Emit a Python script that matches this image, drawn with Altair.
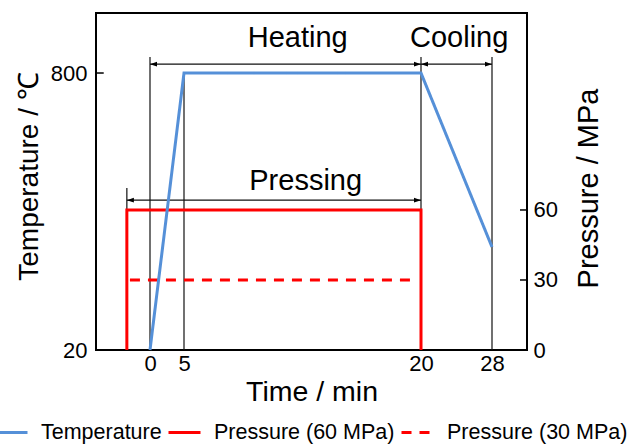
import altair as alt
import pandas as pd

FONT = "Liberation Sans"

# ---------------- data ----------------
series_names = ["Temperature", "Pressure (60 MPa)", "Pressure (30 MPa)"]
series_colors = ["#5590D8", "#FF0000", "#FF0000"]

temp_time = [0, 5, 20, 28]
temp_value = [20, 800, 800, 310]

p60_time = [-3, -3, 20, 20]
p60_value = [0, 60, 60, 0]

p30_time = [-2.6, 19.4]
p30_value = [30, 30]

x_ticks = [0, 5, 20, 28]
temp_ticks = [20, 800]
press_ticks = [0, 30, 60]

# vertical guide lines (time, bottom / top in deg C)
guide_time = [0, 5, 20, 28, -3]
guide_bottom = [20, 20, 20, 20, 414]
guide_top = [845, 800, 845, 845, 476]

# phase arrows (deg C scale)
phase_names = ["Heating", "Cooling", "Pressing"]
phase_start = [0, 20, -3]
phase_end = [20, 28, 20]
phase_level = [825, 825, 442]
label_time = [12.2, 24.3, 12.7]
label_level = [873, 873, 470]

# ---------------- tables ----------------
temp_df = pd.DataFrame({"t": temp_time, "v": temp_value, "idx": range(len(temp_time)),
                        "series": series_names[0]})
p60_df = pd.DataFrame({"t": p60_time, "v": p60_value, "idx": range(len(p60_time)),
                       "series": series_names[1]})
p30_df = pd.DataFrame({"t": p30_time, "v": p30_value, "idx": range(len(p30_time)),
                       "series": series_names[2]})
guide_df = pd.DataFrame({"t": guide_time, "b": guide_bottom, "top": guide_top})
arrow_df = pd.DataFrame({"name": phase_names, "s": phase_start, "e": phase_end,
                         "lvl": phase_level, "lt": label_time, "ll": label_level})
ttick_df = pd.DataFrame({"v": [800], "x0": [-7], "x1": [-6]})
ptick_df = pd.DataFrame({"v": [30, 60], "x0": [32, 32], "x1": [33, 33]})

# ---------------- scales / axes ----------------
xscale = alt.Scale(domain=[-7, 0, 5, 20, 28, 33], range=[0, 54, 88, 325, 396, 431],
                   nice=False, zero=False)
xaxis = alt.Axis(values=x_ticks, ticks=False, tickSize=0, domain=False, grid=False,
                 labelFontSize=22, labelPadding=3, labelFont=FONT, labelColor="black",
                 title="Time / min", titleFontSize=28.5, titleFont=FONT,
                 titleFontWeight="normal", titleColor="black",
                 titleBaseline="alphabetic", titleY=50)

tscale = alt.Scale(domain=[20, 969], nice=False, zero=False)
taxis = alt.Axis(orient="left", values=temp_ticks, ticks=False, tickSize=0, domain=False,
                 grid=False, labelFontSize=22, labelPadding=9, labelFont=FONT,
                 labelColor="black", title="Temperature / ℃", titleFontSize=28,
                 titleFont=FONT, titleFontWeight="normal", titleColor="black",
                 titleAngle=270, titleBaseline="alphabetic", titleX=-59, titleY=163)

pscale = alt.Scale(domain=[0, 144.4], nice=False, zero=False)
paxis = alt.Axis(orient="right", values=press_ticks, ticks=False, tickSize=0, domain=False,
                 grid=False, labelFontSize=22, labelPadding=6, labelFont=FONT,
                 labelColor="black", title="Pressure / MPa", titleFontSize=29,
                 titleFont=FONT, titleFontWeight="normal", titleColor="black",
                 titleAngle=270, titleBaseline="alphabetic", titleX=70, titleY=175)

legend = alt.Legend(orient="none", legendX=-102, legendY=402, direction="horizontal",
                    title=None, symbolType="stroke", symbolSize=1024,
                    symbolStrokeWidth=3, labelFontSize=21.5, labelFont=FONT,
                    labelColor="black", labelOffset=12, columnPadding=0, padding=0,
                    labelLimit=400)
color_enc = alt.Color("series:N", scale=alt.Scale(domain=series_names, range=series_colors),
                      legend=legend)
dash_enc = alt.StrokeDash("series:N",
                          scale=alt.Scale(domain=series_names,
                                          range=[[1, 0], [1, 0], [10, 8]]),
                          legend=legend)


def X(f):
    return alt.X(f"{f}:Q", scale=xscale, axis=xaxis)


def YT(f, axis=True):
    return alt.Y(f"{f}:Q", scale=tscale, axis=taxis if axis else None)


def YP(f):
    return alt.Y(f"{f}:Q", scale=pscale, axis=paxis)


# ---------------- temperature-scale annotations ----------------
guides = alt.Chart(guide_df).mark_rule(color="#111111", strokeWidth=1.2).encode(
    x=X("t"), y=YT("b"), y2="top")
arrows = alt.Chart(arrow_df).mark_rule(color="#111111", strokeWidth=1.2).encode(
    x=X("s"), x2="e", y=YT("lvl"))
heads_l = alt.Chart(arrow_df).mark_point(shape="M0,0L2,-0.65L2,0.65Z", size=49,
                                         filled=True, color="black", opacity=1).encode(
    x=X("s"), y=YT("lvl"))
heads_r = alt.Chart(arrow_df).mark_point(shape="M0,0L-2,-0.65L-2,0.65Z", size=49,
                                         filled=True, color="black", opacity=1).encode(
    x=X("e"), y=YT("lvl"))
labels = alt.Chart(arrow_df).mark_text(font=FONT, fontSize=29, color="black",
                                       align="center", baseline="alphabetic").encode(
    x=X("lt"), y=YT("ll"), text="name:N")
tticks = alt.Chart(ttick_df).mark_rule(color="black", strokeWidth=1.5).encode(
    x=X("x0"), x2="x1", y=YT("v"))

temp_group = alt.layer(guides, arrows, heads_l, heads_r, labels, tticks)

# ---------------- pressure ----------------
p60 = alt.Chart(p60_df).mark_line(strokeWidth=3, strokeJoin="miter").encode(
    x=X("t"), y=YP("v"), order="idx:Q", color=color_enc, strokeDash=dash_enc)
p30 = alt.Chart(p30_df).mark_line(strokeWidth=3).encode(
    x=X("t"), y=YP("v"), order="idx:Q", color=color_enc, strokeDash=dash_enc)
pticks = alt.Chart(ptick_df).mark_rule(color="black", strokeWidth=1.5).encode(
    x=X("x0"), x2="x1", y=YP("v"))
press_group = alt.layer(p60, p30, pticks)

# ---------------- temperature line ----------------
temp_line = alt.Chart(temp_df).mark_line(strokeWidth=3, strokeJoin="miter").encode(
    x=X("t"), y=YT("v", axis=False), order="idx:Q", color=color_enc, strokeDash=dash_enc)

chart = alt.layer(temp_group, press_group, temp_line).resolve_scale(
    y="independent"
).properties(
    width=431, height=337,
    background="white",
    autosize=alt.AutoSizeParams(type="none"),
    padding={"left": 96, "top": 13, "right": 106, "bottom": 95},
).configure_view(stroke="black", strokeWidth=2)

chart.save("out.html", embed_options={"renderer": "svg", "actions": False})
